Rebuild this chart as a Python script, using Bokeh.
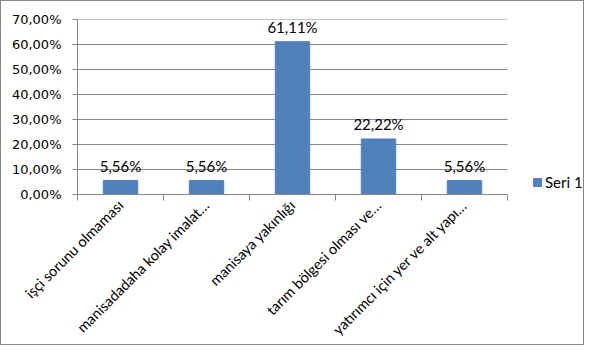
import math
from bokeh.plotting import figure
from bokeh.models import ColumnDataSource, FixedTicker, Range1d, Legend, LegendItem
from bokeh.core.properties import value
from bokeh.embed import file_html
from bokeh.resources import INLINE

# ---- data ----
categories = [
    "işçi sorunu olmaması",
    "manisadadaha kolay imalat…",
    "manisaya yakınlığı",
    "tarım bölgesi olması ve…",
    "yatırımcı için yer ve alt yapı…",
]
values = [5.56, 5.56, 61.11, 22.22, 5.56]
value_labels = ["5,56%", "5,56%", "61,11%", "22,22%", "5,56%"]
y_ticks = [0, 10, 20, 30, 40, 50, 60, 70]
y_tick_labels = ["0,00%", "10,00%", "20,00%", "30,00%", "40,00%", "50,00%", "60,00%", "70,00%"]
series_name = "Seri 1"

n = len(categories)
x_pos = [i + 0.5 for i in range(n)]
src = ColumnDataSource(dict(x=x_pos, top=values, lbl=value_labels, cat=categories))

GRID = "#868686"
BAR = "#4F81BD"

W, H = 584, 345
LEFT, TOP, BOTTOM = 76, 18, 152
CAT_PX = 86  # pixels per category
frame_w = W - LEFT
x_end = frame_w / CAT_PX  # frame extends to the right to host the legend

p = figure(width=W, height=H, output_backend="svg", toolbar_location=None,
           x_range=Range1d(0, x_end), y_range=Range1d(y_ticks[0], y_ticks[-1]),
           min_border_left=LEFT, min_border_right=0, min_border_top=TOP, min_border_bottom=BOTTOM)
p.styles = {"border": "1px solid #868686"}
p.outline_line_color = None
p.background_fill_color = "white"
p.border_fill_color = "white"

p.xgrid.visible = False
p.ygrid.visible = False
# horizontal gridlines limited to the category area
p.segment(x0=[0] * len(y_ticks), x1=[n] * len(y_ticks), y0=y_ticks, y1=y_ticks,
          line_color=GRID, line_width=1)

# y axis
p.yaxis.ticker = FixedTicker(ticks=y_ticks)
p.yaxis.major_label_overrides = {t: l for t, l in zip(y_ticks, y_tick_labels)}
p.yaxis.axis_line_color = GRID
p.yaxis.major_tick_line_color = GRID
p.yaxis.major_tick_out = 5
p.yaxis.major_tick_in = 0
p.yaxis.minor_tick_line_color = None
p.yaxis.major_label_standoff = 11
p.yaxis.major_label_text_font = "DejaVu Sans"
p.yaxis.major_label_text_font_size = "13px"
p.yaxis.major_label_text_color = "black"

# x axis: labels at category centres, ticks at category boundaries
p.xaxis.ticker = FixedTicker(ticks=x_pos, minor_ticks=list(range(n + 1)))
p.xaxis.bounds = (0, n)
p.xaxis.major_label_overrides = {x: c for x, c in zip(x_pos, categories)}
p.xaxis.axis_line_color = GRID
p.xaxis.major_tick_line_color = None
p.xaxis.major_tick_out = 0
p.xaxis.major_tick_in = 0
p.xaxis.minor_tick_line_color = GRID
p.xaxis.minor_tick_out = 6
p.xaxis.minor_tick_in = 0
p.xaxis.major_label_orientation = math.pi / 4
p.xaxis.major_label_standoff = 2
p.xaxis.major_label_text_font = "Lato"
p.xaxis.major_label_text_font_size = "14.5px"
p.xaxis.major_label_text_color = "black"

bars = p.vbar(x="x", top="top", width=0.4, source=src, fill_color=BAR, line_color=BAR)

p.text(x="x", y="top", text="lbl", source=src, text_align="center", text_baseline="middle",
       y_offset=-15, text_font=value("Lato"), text_font_size="15px", text_color="black")

legend = Legend(items=[LegendItem(label=series_name, renderers=[bars])],
                location=(455, 3), glyph_width=10, glyph_height=10, label_standoff=3,
                padding=0, margin=0, border_line_color=None, background_fill_alpha=0,
                label_text_font="Lato", label_text_font_size="15px", label_text_color="black")
p.add_layout(legend)

open("out.html", "w").write(file_html(p, INLINE))
